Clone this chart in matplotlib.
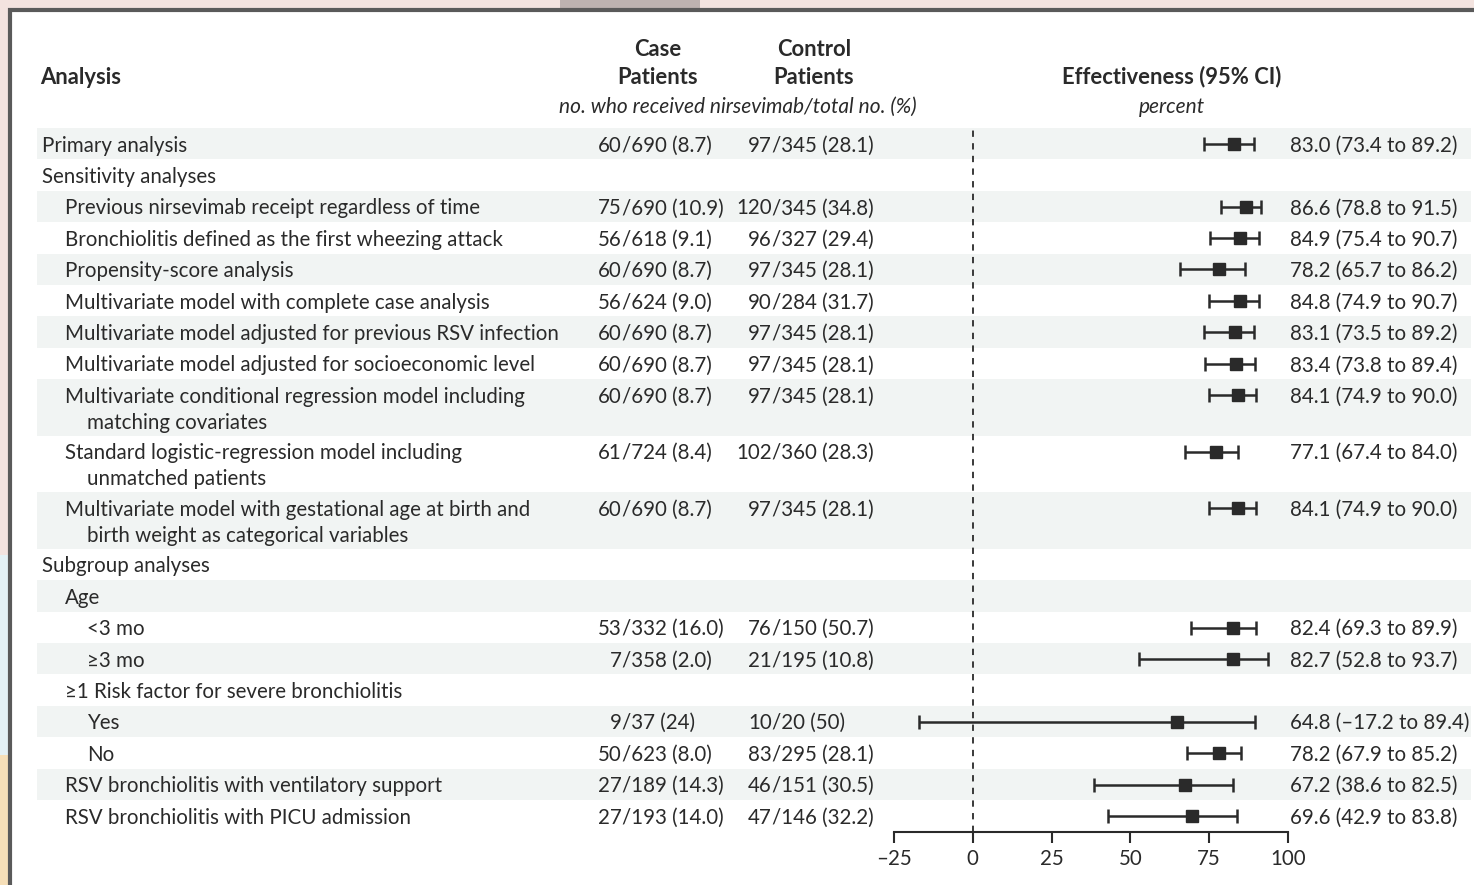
import matplotlib.pyplot as plt
from matplotlib.patches import Rectangle

# ---- data ----
labels = [
    "Primary analysis",
    "Sensitivity analyses",
    "Previous nirsevimab receipt regardless of time",
    "Bronchiolitis defined as the first wheezing attack",
    "Propensity-score analysis",
    "Multivariate model with complete case analysis",
    "Multivariate model adjusted for previous RSV infection",
    "Multivariate model adjusted for socioeconomic level",
    "Multivariate conditional regression model including\nmatching covariates",
    "Standard logistic-regression model including\nunmatched patients",
    "Multivariate model with gestational age at birth and\nbirth weight as categorical variables",
    "Subgroup analyses",
    "Age",
    "<3 mo",
    "\u22653 mo",
    "\u22651 Risk factor for severe bronchiolitis",
    "Yes",
    "No",
    "RSV bronchiolitis with ventilatory support",
    "RSV bronchiolitis with PICU admission",
]
levels = [0, 0, 1, 1, 1, 1, 1, 1, 1, 1, 1, 0, 1, 2, 2, 1, 2, 2, 1, 1]
case_pts = ["60/690 (8.7)", "", "75/690 (10.9)", "56/618 (9.1)", "60/690 (8.7)",
            "56/624 (9.0)", "60/690 (8.7)", "60/690 (8.7)", "60/690 (8.7)",
            "61/724 (8.4)", "60/690 (8.7)", "", "", "53/332 (16.0)", "7/358 (2.0)",
            "", "9/37 (24)", "50/623 (8.0)", "27/189 (14.3)", "27/193 (14.0)"]
control_pts = ["97/345 (28.1)", "", "120/345 (34.8)", "96/327 (29.4)", "97/345 (28.1)",
               "90/284 (31.7)", "97/345 (28.1)", "97/345 (28.1)", "97/345 (28.1)",
               "102/360 (28.3)", "97/345 (28.1)", "", "", "76/150 (50.7)", "21/195 (10.8)",
               "", "10/20 (50)", "83/295 (28.1)", "46/151 (30.5)", "47/146 (32.2)"]
eff = [83.0, None, 86.6, 84.9, 78.2, 84.8, 83.1, 83.4, 84.1, 77.1, 84.1,
       None, None, 82.4, 82.7, None, 64.8, 78.2, 67.2, 69.6]
ci_lo = [73.4, None, 78.8, 75.4, 65.7, 74.9, 73.5, 73.8, 74.9, 67.4, 74.9,
         None, None, 69.3, 52.8, None, -17.2, 67.9, 38.6, 42.9]
ci_hi = [89.2, None, 91.5, 90.7, 86.2, 90.7, 89.2, 89.4, 90.0, 84.0, 90.0,
         None, None, 89.9, 93.7, None, 89.4, 85.2, 82.5, 83.8]
x_ticks = [-25, 0, 25, 50, 75, 100]

# ---- layout (pixels of a 1474x885 canvas) ----
W, H = 1474, 885
TOP, ROW = 128, 31.4          # first row top, single row height
plt.rcParams['font.family'] = ['Lato', 'DejaVu Sans']
FS = 14.8      # body text
FSB = 15.8     # bold headers
FSI = 15.0     # italic sub-headers
TXT = '#2a2a2a'
SHADE = '#f1f4f3'
DY = 0.06      # nudge text a little down so it sits visually centred

heights = [1.8 if "\n" in s else 1.0 for s in labels]
tops = []
acc = 0.0
for h in heights:
    tops.append(acc)
    acc += h
total = acc


def u(px):
    return (px - TOP) / ROW


fig = plt.figure(figsize=(W / 100, H / 100), dpi=100, facecolor='#f3e3df')
# faded photo around the card (rough colour blocks)
fig.patches.append(Rectangle((0, 0), 10 / W, 330 / H, transform=fig.transFigure,
                             fc='#f6dfb8', ec='none', zorder=-10))
fig.patches.append(Rectangle((0, 130 / H), 10 / W, 200 / H, transform=fig.transFigure,
                             fc='#e4f1f5', ec='none', zorder=-9))
fig.patches.append(Rectangle((560 / W, 1 - 10 / H), 140 / W, 10 / H, transform=fig.transFigure,
                             fc='#bdb2b0', ec='none', zorder=-9))
fig.patches.append(Rectangle((10 / W, -0.1), 1.1, 1.1 - 10 / H, transform=fig.transFigure,
                             fc='white', ec='#5a5a5a', lw=3, zorder=-5))

tab = fig.add_axes([0, 0, 1, 1])
tab.set_xlim(0, W)
tab.set_ylim(u(H), u(0))
tab.axis('off')
tab.patch.set_alpha(0)

# shaded bands
for i, (t, h) in enumerate(zip(tops, heights)):
    if i % 2 == 0:
        tab.add_patch(Rectangle((37, t), 1471 - 37, h, fc=SHADE, ec='none', zorder=0))

# headers
hdr = dict(fontsize=FSB, fontweight='bold', color=TXT, va='center')
tab.text(40, u(77), "Analysis", **hdr)
tab.text(658, u(49), "Case", ha='center', **hdr)
tab.text(658, u(77), "Patients", ha='center', **hdr)
tab.text(814, u(49), "Control", ha='center', **hdr)
tab.text(814, u(77), "Patients", ha='center', **hdr)
tab.text(1172, u(77), "Effectiveness (95% CI)", ha='center', **hdr)
tab.text(738, u(107), "no. who received nirsevimab/total no. (%)", fontsize=FSI, style='italic',
         color=TXT, ha='center', va='center')
tab.text(1172, u(107), "percent", fontsize=FSI, style='italic', color=TXT, ha='center', va='center')

indent = [42, 65, 87]
line_y = []
for i, lab in enumerate(labels):
    y0 = tops[i] + 0.5
    line_y.append(y0)
    ty = y0 + DY
    parts = lab.split("\n")
    tab.text(indent[levels[i]], ty, parts[0], fontsize=FS, color=TXT, va='center')
    if len(parts) > 1:
        tab.text(indent[levels[i] + 1], ty + 0.83, parts[1], fontsize=FS, color=TXT, va='center')
    for col, slash_x in ((case_pts, 622), (control_pts, 772)):
        if col[i]:
            num, rest = col[i].split("/", 1)
            tab.text(slash_x, ty, num, fontsize=FS, color=TXT, ha='right', va='center')
            tab.text(slash_x, ty, "/" + rest, fontsize=FS, color=TXT, ha='left', va='center')
    if eff[i] is not None:
        s = f"{eff[i]:.1f} ({ci_lo[i]:.1f} to {ci_hi[i]:.1f})".replace("-", "\u2013")
        tab.text(1290, ty, s, fontsize=FS, color=TXT, va='center')

# forest plot
ax = fig.add_axes([894 / W, (H - 832) / H, 394 / W, (832 - TOP) / H])
ax.patch.set_alpha(0)
ax.set_xlim(-25, 100)
ax.set_ylim(total, 0)
ax.axvline(0, color=TXT, lw=1.3, ls=(0, (3.5, 3.5)), zorder=1)
for i in range(len(labels)):
    if eff[i] is None:
        continue
    ax.errorbar(eff[i], line_y[i], xerr=[[eff[i] - ci_lo[i]], [ci_hi[i] - eff[i]]],
                fmt='s', color=TXT, ms=8, elinewidth=1.8, capsize=5, capthick=1.8, zorder=3)
for side in ('top', 'right', 'left'):
    ax.spines[side].set_visible(False)
ax.spines['bottom'].set_linewidth(1.5)
ax.spines['bottom'].set_color(TXT)
ax.set_yticks([])
ax.set_xticks(x_ticks)
ax.set_xticklabels([str(t).replace("-", "\u2013") for t in x_ticks])
ax.tick_params(axis='x', direction='out', length=8, width=1.5, color=TXT,
               labelsize=FS, labelcolor=TXT, pad=4)

fig.savefig("out.png", dpi=100, facecolor=fig.get_facecolor())
